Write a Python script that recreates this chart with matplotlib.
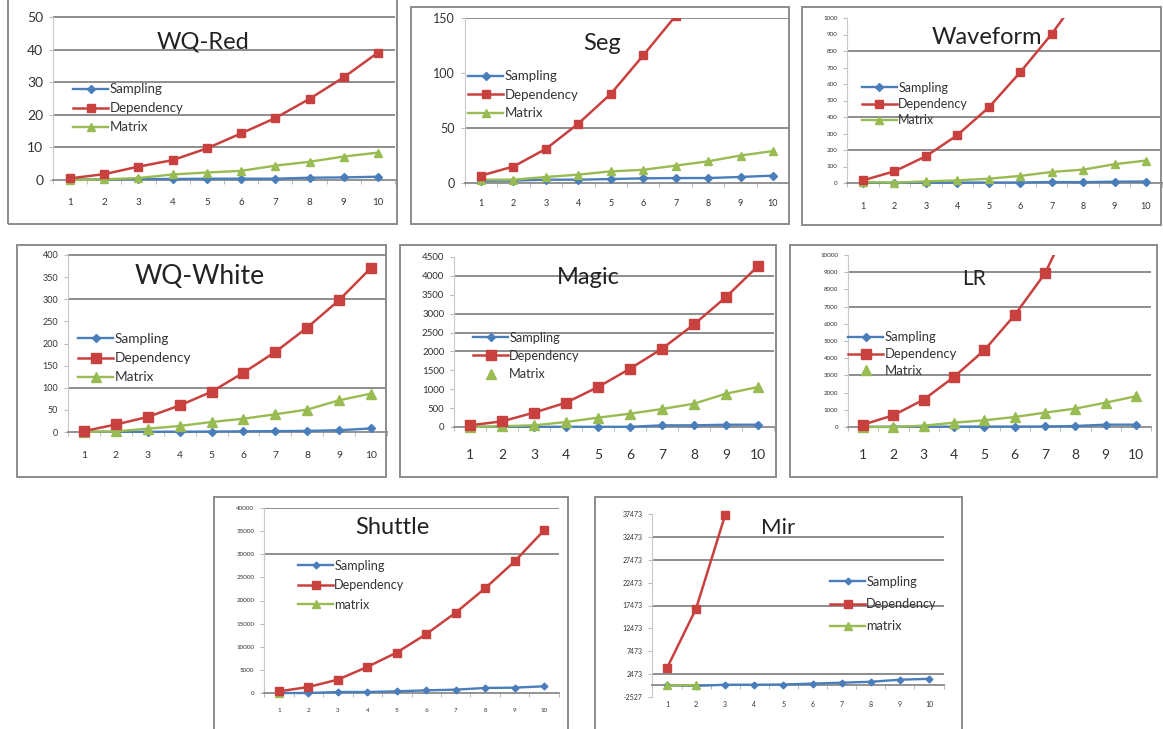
import numpy as np
import matplotlib
matplotlib.use('Agg')
import matplotlib.pyplot as plt
from matplotlib.patches import Rectangle
from matplotlib.lines import Line2D

plt.rcParams['font.family'] = ['Lato', 'DejaVu Sans']

# 数据
cats = np.arange(1, 11)
nan = np.nan

wqred_sampling = [0.1, 0.2, 0.3, 0.3, 0.4, 0.4, 0.4, 0.7, 0.8, 1.0]
wqred_dependency = [0.5, 1.8, 4.1, 6.1, 9.7, 14.3, 19.0, 24.9, 31.5, 39.1]
wqred_matrix = [0.0, 0.2, 0.6, 1.7, 2.3, 2.8, 4.4, 5.6, 7.2, 8.4]

seg_sampling = [2.0, 2.2, 3.0, 3.0, 3.6, 4.2, 4.5, 4.5, 5.5, 6.7]
seg_dependency = [6.7, 15, 31, 54, 81, 116, 152, 195, 245, 300]
seg_matrix = [3, 3, 5.5, 7.6, 10.6, 12, 15.8, 19.7, 25, 29]

wave_sampling = [1, 1, 2, 2, 3, 3, 6, 5, 8, 9]
wave_dependency = [16, 71, 162, 290, 458, 671, 903, 1165, 1450, 1780]
wave_matrix = [6, 2, 10, 16, 26, 43, 67, 81, 114, 136]

white_sampling = [0.5, 0.5, 0.5, 0.7, 1, 1.5, 2, 2.5, 4, 8]
white_dependency = [2, 17, 34, 60, 91, 134, 181, 236, 298, 371]
white_matrix = [0, 1.5, 7.5, 13.6, 22.6, 30, 40, 50.6, 71.7, 86.8]

magic_sampling = [5, 5, 5, 5, 5, 5, 44, 44, 60, 60]
magic_dependency = [44, 150, 380, 644, 1058, 1543, 2072, 2716, 3440, 4260]
magic_matrix = [0, 20, 44, 132, 247, 353, 476, 617, 882, 1058]

lr_sampling = [10, 15, 20, 20, 25, 25, 30, 58, 136, 136]
lr_dependency = [136, 680, 1590, 2913, 4466, 6505, 8932, 12600, 16500, 21000]
lr_matrix = [0, 0, 78, 252, 388, 582, 835, 1068, 1417, 1786]

shuttle_sampling = [0, 0, 217, 217, 362, 579, 724, 1085, 1158, 1447]
shuttle_dependency = [360, 1302, 2894, 5644, 8755, 12735, 17366, 22648, 28437, 35166]
shuttle_matrix = [0, nan, nan, nan, nan, nan, nan, nan, nan, nan]

mir_sampling = [0, -100, 150, 150, 200, 400, 600, 800, 1250, 1450]
mir_dependency = [3800, 16800, 37300, nan, nan, nan, nan, nan, nan, nan]
mir_matrix = [0, 50, nan, nan, nan, nan, nan, nan, nan, nan]

wqred_yticks = [0, 10, 20, 30, 40, 50]
seg_yticks = [0, 50, 100, 150]
wave_yticks = list(range(0, 1001, 100))
white_yticks = list(range(0, 401, 50))
magic_yticks = list(range(0, 4501, 500))
lr_yticks = list(range(0, 10001, 1000))
shuttle_yticks = list(range(0, 40001, 5000))
mir_yticks = list(range(-2527, 37474, 5000))

BLUE = '#4a7ebb'
RED = '#c8413e'
GREEN = '#98bb52'

W, H = 1163, 729
fig = plt.figure(figsize=(W / 100, H / 100), dpi=100)


def fx(px):
    return px / W


def fy(py):
    return 1 - py / H


panels = [
    dict(title='WQ-Red', box=(8, -5, 397, 224), x1=70, x10=378, yb=180, yt=17,
         yticks=wqred_yticks, grid=[10, 20, 30, 40, 50],
         data=(wqred_sampling, wqred_dependency, wqred_matrix),
         names=('Sampling', 'Dependency', 'Matrix'),
         title_xy=(203, 42), title_fs=17, ytick_fs=10, xtick_fs=7, xlab_y=204,
         leg_x=73, leg_y=90, leg_pitch=19.5, leg_fs=9.5, top_pad=0.02, mk=1.0),
    dict(title='Seg', box=(411, 7, 789, 224), x1=481, x10=773, yb=183, yt=18,
         yticks=seg_yticks, grid=[50, 150],
         data=(seg_sampling, seg_dependency, seg_matrix),
         names=('Sampling', 'Dependency', 'Matrix'),
         title_xy=(602, 43), title_fs=17, ytick_fs=9, xtick_fs=6.5, xlab_y=204,
         leg_x=468, leg_y=77, leg_pitch=19, leg_fs=9.5, top_pad=0.0, mk=1.0),
    dict(title='Waveform', box=(802, 7, 1161, 225), x1=863, x10=1146, yb=183, yt=18,
         yticks=wave_yticks, grid=[200, 400, 800],
         data=(wave_sampling, wave_dependency, wave_matrix),
         names=('Sampling', 'Dependency', 'Matrix'),
         title_xy=(987, 38), title_fs=17, ytick_fs=4.5, xtick_fs=6.5, xlab_y=207,
         leg_x=862, leg_y=88, leg_pitch=16, leg_fs=9, top_pad=0.0, mk=1.0),
    dict(title='WQ-White', box=(17, 245, 386, 477), x1=84, x10=371, yb=432, yt=255,
         yticks=white_yticks, grid=[100, 300, 400],
         data=(white_sampling, white_dependency, white_matrix),
         names=('Sampling', 'Dependency', 'Matrix'),
         title_xy=(200, 276), title_fs=19, ytick_fs=6.5, xtick_fs=7.5, xlab_y=457,
         leg_x=78, leg_y=340, leg_pitch=20, leg_fs=9.8, top_pad=0.02, mk=1.05),
    dict(title='Magic', box=(400, 245, 776, 477), x1=470, x10=758, yb=427, yt=257,
         yticks=magic_yticks, grid=[2000, 2500, 3000, 4000],
         data=(magic_sampling, magic_dependency, magic_matrix),
         names=('Sampling', 'Dependency', 'Matrix'), matrix_noline=True,
         title_xy=(588, 277), title_fs=17, ytick_fs=7, xtick_fs=10, xlab_y=457,
         leg_x=473, leg_y=338, leg_pitch=18.5, leg_fs=9.2, top_pad=0.02, mk=1.05),
    dict(title='LR', box=(790, 245, 1157, 477), x1=863, x10=1136, yb=427, yt=255,
         yticks=lr_yticks, grid=[3000, 7000, 9000],
         data=(lr_sampling, lr_dependency, lr_matrix),
         names=('Sampling', 'Dependency', 'Matrix'), matrix_noline=True,
         title_xy=(974, 279), title_fs=15, ytick_fs=4.5, xtick_fs=10, xlab_y=457,
         leg_x=848, leg_y=338, leg_pitch=17, leg_fs=9.4, top_pad=0.0, mk=1.05),
    dict(title='Shuttle', box=(214, 497, 568, 740), x1=279, x10=544, yb=693, yt=508,
         yticks=shuttle_yticks, grid=[30000, 40000],
         data=(shuttle_sampling, shuttle_dependency, shuttle_matrix),
         names=('Sampling', 'Dependency', 'matrix'),
         title_xy=(392, 527), title_fs=17, ytick_fs=4.5, xtick_fs=4.5, xlab_y=712,
         leg_x=298, leg_y=566, leg_pitch=19.5, leg_fs=9.1, top_pad=0.0, mk=0.9),
    dict(title='Mir', box=(595, 497, 962, 740), x1=667, x10=929, yb=697, yt=514,
         yticks=mir_yticks, grid=[2473, 17473, 27473, 32473],
         data=(mir_sampling, mir_dependency, mir_matrix),
         names=('Sampling', 'Dependency', 'matrix'),
         title_xy=(778, 528), title_fs=16, ytick_fs=5, xtick_fs=5, xlab_y=705,
         leg_x=830, leg_y=582, leg_pitch=22.5, leg_fs=9.2, top_pad=0.03, mk=0.9),
]


def draw_panel(p):
    # 外框
    x0, y0, x1, y1 = p['box']
    fig.add_artist(Rectangle((fx(x0), fy(y1)), fx(x1) - fx(x0), fy(y0) - fy(y1),
                             transform=fig.transFigure, fill=False,
                             ec='#8c8c8c', lw=1.4))

    # 坐标区位置（由像素映射计算）
    yticks = p['yticks']
    vlo, vhi = yticks[0], yticks[-1]
    ppu = (p['yb'] - p['yt']) / (vhi - vlo)
    rng = vhi - vlo
    ylo = vlo - 0.05 * rng if vlo == 0 else vlo
    yhi = vhi + p['top_pad'] * rng
    sp = (p['x10'] - p['x1']) / 9
    left = p['x1'] - 0.5 * sp
    right = p['x10'] + 0.5 * sp
    bottom = p['yb'] + (vlo - ylo) * ppu
    top = p['yb'] - (yhi - vlo) * ppu
    ax = fig.add_axes([fx(left), fy(bottom), fx(right) - fx(left), fy(top) - fy(bottom)])
    ax.patch.set_alpha(0)
    ax.set_xlim(0.5, 10.5)
    ax.set_ylim(ylo, yhi)

    for g in p['grid']:
        ax.axhline(g, color='#858585', lw=1.3, zorder=0.5)

    s, d, m = p['data']
    k = p['mk']
    ax.plot(cats, s, color=BLUE, lw=1.7, marker='D', ms=3.8 * k, zorder=3)
    ax.plot(cats, d, color=RED, lw=1.8, marker='s', ms=6.4 * k, zorder=4)
    ax.plot(cats, m, color=GREEN, lw=1.7, marker='^', ms=6.2 * k, zorder=3.5)

    # 坐标轴样式
    for side in ('top', 'right'):
        ax.spines[side].set_visible(False)
    ax.spines['left'].set_bounds(vlo, vhi)
    ax.spines['left'].set_color('#c8c8c8')
    ax.spines['bottom'].set_position(('data', 0))
    ax.spines['bottom'].set_color('#8a8a8a')
    ax.spines['bottom'].set_linewidth(1.3)

    ax.set_yticks(yticks)
    ax.set_yticklabels([str(v) for v in yticks])
    ax.tick_params(axis='y', length=3, color='#bbbbbb', labelsize=p['ytick_fs'],
                   labelcolor='#333333', pad=4)

    zero_px = p['yb'] - (0 - vlo) * ppu
    fs_px = p['xtick_fs'] / 0.72
    pad_pt = max(p['xlab_y'] - zero_px - 0.6 * fs_px, 0) * 0.72
    ax.set_xticks(cats)
    ax.set_xticklabels([str(c) for c in cats])
    ax.set_xticks(np.arange(0.5, 11, 1), minor=True)
    ax.tick_params(axis='x', which='major', length=0, labelsize=p['xtick_fs'],
                   labelcolor='#333333', pad=pad_pt)
    ax.tick_params(axis='x', which='minor', length=3, color='#b0b0b0', direction='out')

    # 标题
    fig.text(fx(p['title_xy'][0]), fy(p['title_xy'][1]), p['title'],
             fontsize=p['title_fs'], ha='center', va='center', color='#222222')

    # 图例
    handles = [
        Line2D([], [], color=BLUE, lw=1.7, marker='D', ms=3.8 * k),
        Line2D([], [], color=RED, lw=1.8, marker='s', ms=6.4 * k),
    ]
    if p.get('matrix_noline'):
        handles.append(Line2D([], [], color=GREEN, ls='none', marker='^', ms=6.2 * k))
    else:
        handles.append(Line2D([], [], color=GREEN, lw=1.7, marker='^', ms=6.2 * k))
    lfs_px = p['leg_fs'] / 0.72
    spacing = max(p['leg_pitch'] / lfs_px - 0.95, 0.05)
    ax.legend(handles, p['names'], loc='upper left',
              bbox_to_anchor=(fx(p['leg_x']), fy(p['leg_y'] - 0.5 * lfs_px)),
              bbox_transform=fig.transFigure, frameon=False, fontsize=p['leg_fs'],
              borderpad=0, borderaxespad=0, handlelength=35 / lfs_px,
              handletextpad=0.1, labelspacing=spacing, labelcolor='#333333')
    return ax


for p in panels:
    draw_panel(p)

fig.savefig('out.png', dpi=100, facecolor='white')
